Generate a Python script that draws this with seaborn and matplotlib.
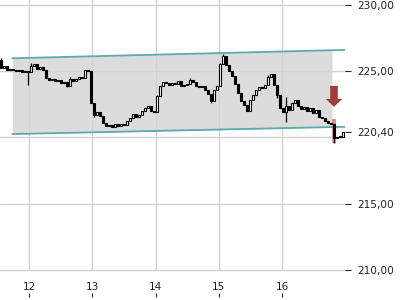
import numpy as np
import matplotlib
matplotlib.use("Agg")
import matplotlib.pyplot as plt
import seaborn as sns
from matplotlib.patches import FancyArrow

# ---------------- data ----------------
closes = [
    225.23, 225.38, 225.08, 225.15, 225.08, 225.00, 225.08, 224.92, 225.00, 224.92,
    225.38, 225.53, 225.15, 225.30, 225.08, 224.47, 224.32, 224.40, 224.25, 224.32,
    224.10, 224.17, 223.87, 224.40, 224.25, 224.40, 224.55, 224.47, 225.08, 225.00,
    222.59, 221.69, 221.92, 221.62, 221.09, 220.86, 220.94, 220.79, 221.02, 220.86,
    221.02, 220.94, 221.24, 221.47, 221.77, 221.54, 221.69, 221.99, 222.22, 222.37,
    221.99, 221.92, 223.12, 223.87, 224.17, 224.10, 223.95, 224.10, 224.02, 224.25,
    223.87, 223.95, 224.02, 224.32, 224.17, 223.87, 223.80, 223.87, 223.57, 223.27,
    222.74, 223.57, 223.87, 225.53, 226.13, 225.45, 225.00, 224.62, 224.02, 223.35,
    222.74, 222.44, 221.99, 222.82, 223.20, 223.57, 223.80, 223.72, 223.95, 224.55,
    224.77, 223.95, 223.20, 222.22, 221.92, 222.37, 222.07, 222.59, 222.82, 222.37,
    222.14, 222.29, 221.99, 222.22, 221.84, 222.07, 221.54, 221.47, 221.24, 221.09,
    221.02, 219.96, 220.04, 220.04, 220.41,
]
first_open = 225.83
wick_high = {0: 225.98, 10: 225.60, 23: 224.55, 31: 222.59, 52: 223.20, 63: 224.45,
             73: 225.60, 74: 226.28, 89: 224.70, 95: 223.05}
wick_low = {9: 223.95, 22: 223.75, 31: 221.55, 70: 222.60, 92: 222.95, 95: 221.17,
            111: 219.59}

day_ticks = [12, 13, 14, 15, 16]
day_labels = ["12", "13", "14", "15", "16"]
price_ticks = [230.0, 225.0, 220.40, 215.0, 210.0]
price_labels = ["230,00", "225,00", "220,40", "215,00", "210,00"]
grid_levels = [210, 215, 220, 225, 230]

channel_x = [11.736, 17.0]
channel_top = [225.95, 226.58]
channel_bottom = [220.24, 220.79]
fill_end = 16.79

signal_x = 16.822
signal_band = (219.59, 221.39)
arrow_top, arrow_tip = 223.87, 222.29

# ---------------- style ----------------
sns.set_theme(style="white")
plt.rcParams["font.family"] = ["DejaVu Sans"]

fig = plt.figure(figsize=(4, 3), dpi=100)
ax = fig.add_axes([0.0, 0.1, 0.8625, 0.9])

closes_arr = np.array(closes)
opens_arr = np.concatenate([[first_open], closes_arr[:-1]])
n = len(closes_arr)
t = 11.5573 + 0.04743 * np.arange(n)
highs = np.maximum(opens_arr, closes_arr)
lows = np.minimum(opens_arr, closes_arr)
for k, v in wick_high.items():
    highs[k] = max(highs[k], v)
for k, v in wick_low.items():
    lows[k] = min(lows[k], v)

# channel fill
fx = np.array([channel_x[0], fill_end])
ax.fill_between(fx, np.interp(fx, channel_x, channel_bottom),
                np.interp(fx, channel_x, channel_top),
                color="#dcdcdc", lw=0, zorder=0.2)

# grid
for d in day_ticks:
    ax.axvline(d, color="#d2d2d2", lw=1.0, zorder=0.5)
for g in grid_levels:
    ax.axhline(g, color="#d2d2d2", lw=1.0, zorder=0.5, clip_on=False)

# channel lines
sns.lineplot(x=channel_x, y=channel_top, ax=ax, color="#5fa8ab", lw=1.3, zorder=2)
sns.lineplot(x=channel_x, y=channel_bottom, ax=ax, color="#5fa8ab", lw=1.3, zorder=2)

# breakout highlight
ax.vlines(signal_x, signal_band[0], signal_band[1], color="#d97070", lw=2.6,
          alpha=0.85, zorder=2.4)

# candles
ax.vlines(t, lows, highs, color="black", lw=0.9, zorder=2.5)
up = closes_arr >= opens_arr
body_bottom = np.minimum(opens_arr, closes_arr)
body_h = np.maximum(np.abs(closes_arr - opens_arr), 0.05)
ax.bar(t[up], body_h[up], bottom=body_bottom[up], width=0.036,
       color="white", edgecolor="black", lw=0.8, zorder=3)
ax.bar(t[~up], body_h[~up], bottom=body_bottom[~up], width=0.036,
       color="black", edgecolor="black", lw=0.8, zorder=3)

# arrow
ax.add_patch(FancyArrow(signal_x, arrow_top, 0, arrow_tip - arrow_top,
                        width=0.12, head_width=0.26, head_length=0.6,
                        length_includes_head=True, color="#a33b3b", lw=0, zorder=4))

ax.set_xlim(11.5415, 16.996)
ax.set_ylim(210.0, 230.34)

# axes
for s in ax.spines.values():
    s.set_visible(False)
ax.yaxis.tick_right()
ax.set_yticks(price_ticks)
ax.set_yticklabels(price_labels)
ax.tick_params(axis="y", which="major", length=4, width=0.8, color="#222222",
               pad=5, labelsize=7.6, labelcolor="#222222", right=True, left=False)
ax.set_xticks(day_ticks)
ax.set_xticklabels(day_labels)
ax.tick_params(axis="x", length=0, pad=9, labelsize=7.6, labelcolor="#222222")
ax.set_xlabel("")
ax.set_ylabel("")
ax.grid(False)

sec = ax.secondary_xaxis(-0.1)
sec.set_xticks(day_ticks)
sec.tick_params(axis="x", direction="in", length=3, width=0.8, color="#222222",
                labelbottom=False)
for s in sec.spines.values():
    s.set_visible(False)

fig.savefig("out.png", dpi=100)
